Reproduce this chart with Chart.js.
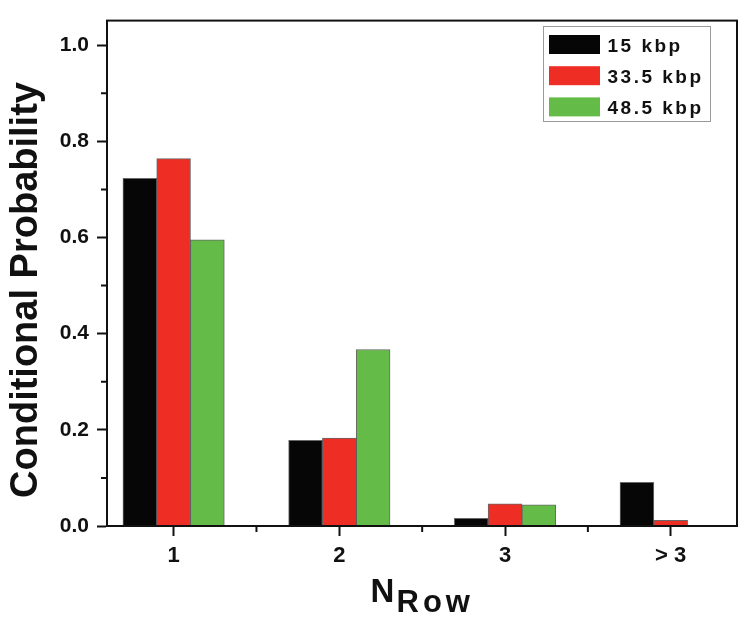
<!DOCTYPE html>
<html>
<head>
<meta charset="utf-8">
<script src="https://cdn.jsdelivr.net/npm/chart.js@4.4.1/dist/chart.umd.min.js"></script>
<style>
  html, body { margin: 0; padding: 0; background: #fff; }
  #wrap { width: 750px; height: 625px; }
</style>
</head>
<body>
<div id="wrap"><canvas id="chart" width="750" height="625"></canvas></div>
<script>
const categories = ["1", "2", "3", "> 3"];
const categoryPositions = [1, 2, 3, 4];
const series15 = [0.723, 0.178, 0.016, 0.091];
const series335 = [0.764, 0.183, 0.046, 0.012];
const series485 = [0.595, 0.367, 0.044, 0];
const seriesLabels = ["15 kbp", "33.5 kbp", "48.5 kbp"];
const seriesColors = ["#060606", "#ee2e24", "#64bb47"];
const yTickValues = [0, 0.2, 0.4, 0.6, 0.8, 1.0];
const yMinorValues = [0.1, 0.3, 0.5, 0.7, 0.9];
const xMinorValues = [1.5, 2.5, 3.5];

const FONT = "'Liberation Sans', Arial, sans-serif";
const INK = "#111";

function toPoints(values) {
  return values.map((v, i) => ({ x: categoryPositions[i], y: v }));
}

const frameAndExtras = {
  id: "frameAndExtras",
  afterDraw(chart) {
    const { ctx, chartArea } = chart;
    const xScale = chart.scales.x;
    const yScale = chart.scales.y;

    ctx.save();
    ctx.strokeStyle = INK;
    ctx.lineWidth = 2;
    ctx.strokeRect(chartArea.left, chartArea.top, chartArea.right - chartArea.left, chartArea.bottom - chartArea.top);

    // minor ticks
    ctx.beginPath();
    yMinorValues.forEach((v) => {
      const y = yScale.getPixelForValue(v);
      ctx.moveTo(chartArea.left - 6, y);
      ctx.lineTo(chartArea.left, y);
    });
    xMinorValues.forEach((v) => {
      const x = xScale.getPixelForValue(v);
      ctx.moveTo(x, chartArea.bottom);
      ctx.lineTo(x, chartArea.bottom + 6);
    });
    ctx.stroke();

    // y title
    ctx.fillStyle = INK;
    ctx.font = `bold 38px ${FONT}`;
    ctx.textAlign = "center";
    ctx.textBaseline = "alphabetic";
    ctx.save();
    ctx.translate(37, 290);
    ctx.rotate(-Math.PI / 2);
    ctx.fillText("Conditional Probability", 0, 0);
    ctx.restore();

    // x title with subscript
    ctx.textAlign = "left";
    ctx.font = `bold 33px ${FONT}`;
    ctx.fillText("N", 370.5, 601.5);
    ctx.font = `bold 31px ${FONT}`;
    ctx.letterSpacing = "4px";
    ctx.fillText("Row", 396.5, 611.5);
    ctx.letterSpacing = "0px";

    // legend
    const box = { left: 543, top: 26, right: 710, bottom: 121 };
    ctx.strokeStyle = "#9a9a9a";
    ctx.lineWidth = 1;
    ctx.strokeRect(box.left + 0.5, box.top + 0.5, box.right - box.left, box.bottom - box.top);
    ctx.font = `bold 19px ${FONT}`;
    ctx.letterSpacing = "2.5px";
    chart.data.datasets.forEach((ds, i) => {
      const cy = 44.5 + i * 31.2;
      ctx.fillStyle = ds.backgroundColor;
      ctx.fillRect(549, cy - 9.5, 51, 19);
      ctx.fillStyle = INK;
      ctx.fillText(ds.label, 607.5, cy + 7);
    });
    ctx.letterSpacing = "0px";
    ctx.restore();
  },
};

const datasets = [series15, series335, series485].map((values, i) => ({
  label: seriesLabels[i],
  data: toPoints(values),
  backgroundColor: seriesColors[i],
  borderColor: "rgba(40, 40, 40, 0.7)",
  borderWidth: 1,
  borderSkipped: "bottom",
  barThickness: 33.8,
}));

new Chart(document.getElementById("chart"), {
  type: "bar",
  data: { datasets },
  options: {
    responsive: false,
    devicePixelRatio: 1,
    animation: false,
    layout: { padding: { top: 12, right: 13, bottom: 0, left: 0 } },
    plugins: {
      legend: { display: false },
      tooltip: { enabled: false },
    },
    scales: {
      x: {
        type: "linear",
        offset: false,
        min: 0.598,
        max: 4.4,
        afterBuildTicks: (scale) => {
          scale.ticks = categoryPositions.map((v) => ({ value: v }));
        },
        afterFit: (scale) => {
          scale.height = 99;
        },
        ticks: {
          autoSkip: false,
          maxRotation: 0,
          padding: 7,
          color: INK,
          font: { family: FONT, size: 22, weight: "bold" },
          callback: (value) => categories[categoryPositions.indexOf(value)],
        },
        grid: { offset: false, drawOnChartArea: false, drawTicks: true, tickLength: 10, tickWidth: 2, tickColor: INK },
        border: { color: INK, width: 2 },
      },
      y: {
        min: 0,
        max: 1.051,
        afterBuildTicks: (scale) => {
          scale.ticks = yTickValues.map((v) => ({ value: v }));
        },
        afterFit: (scale) => {
          scale.width = 107;
        },
        ticks: {
          padding: 8,
          color: INK,
          font: { family: FONT, size: 21, weight: "bold" },
          callback: (value) => value.toFixed(1),
        },
        grid: { drawOnChartArea: false, drawTicks: true, tickLength: 10, tickWidth: 2, tickColor: INK },
        border: { color: INK, width: 2 },
      },
    },
  },
  plugins: [frameAndExtras],
});
</script>
</body>
</html>
